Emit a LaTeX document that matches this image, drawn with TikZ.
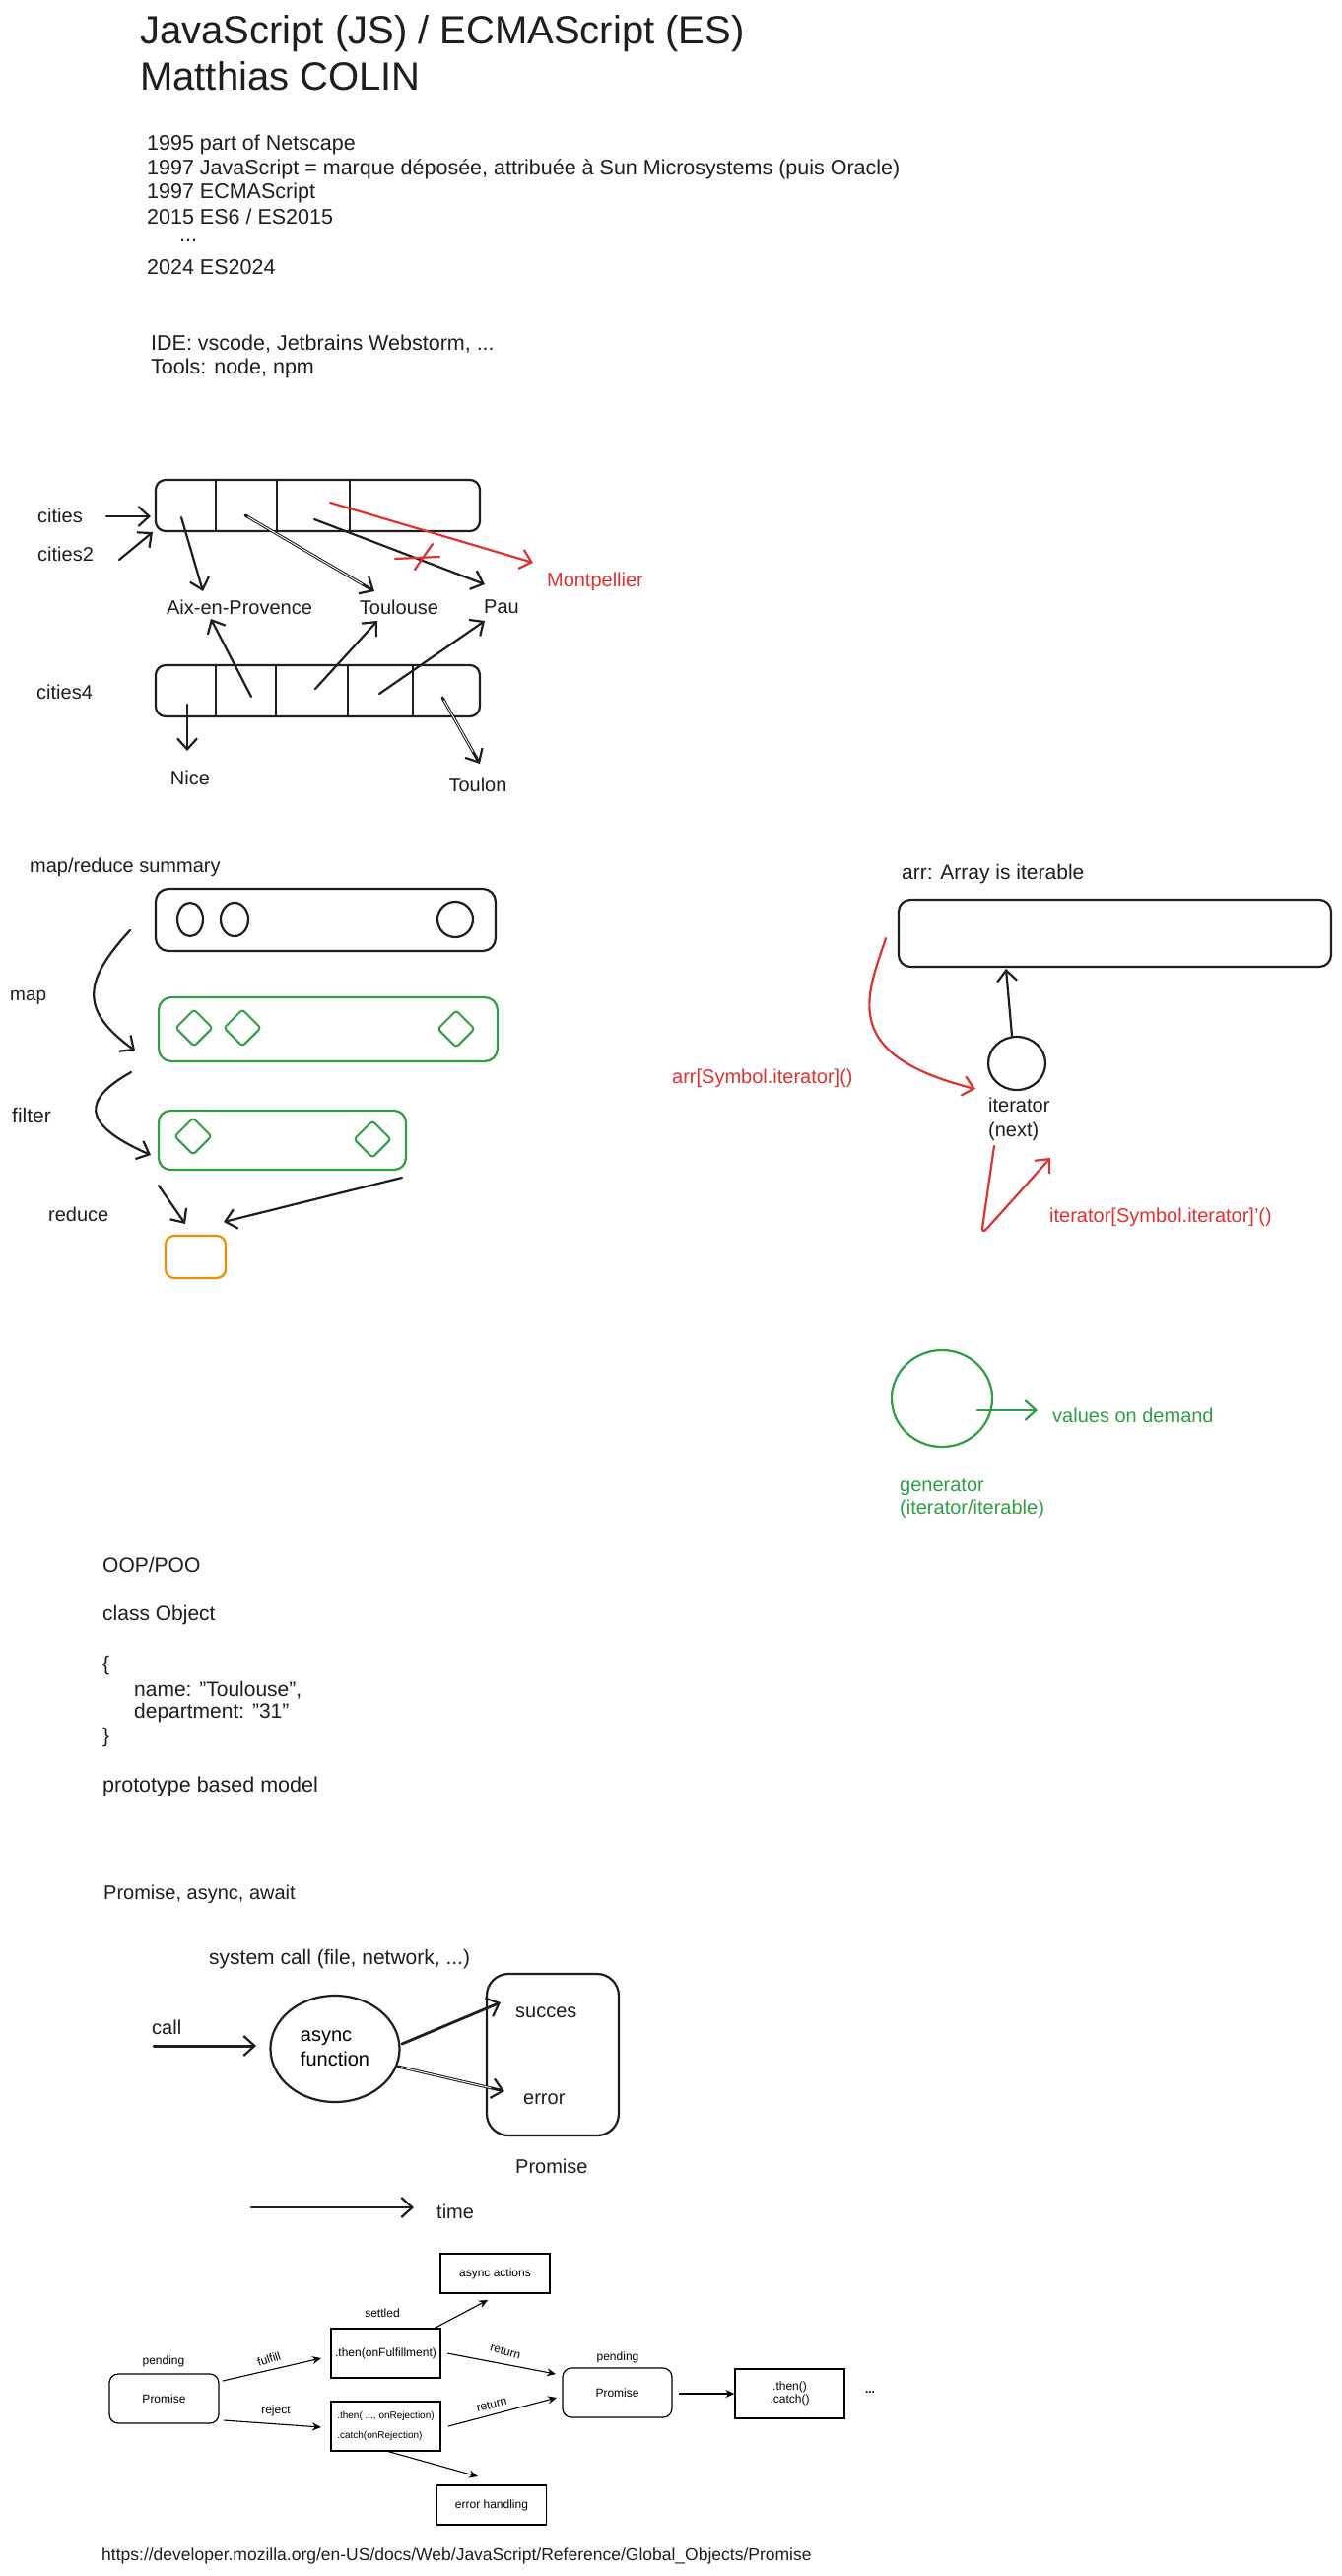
\documentclass[tikz,border=0pt]{standalone}
\usepackage{fontspec}
\setmainfont{Liberation Sans}
\usetikzlibrary{arrows.meta,shapes.geometric}
\definecolor{ink}{HTML}{1E1E1E}
\definecolor{exred}{HTML}{E03131}
\definecolor{exgreen}{HTML}{2F9E44}
\definecolor{exorange}{HTML}{F08C00}
\newcommand{\handsz}{\fontsize{20}{25}\selectfont}
\newcommand{\bigsz}{\fontsize{21.5}{25}\selectfont}
\newcommand{\diagsz}{\fontsize{12}{14}\selectfont}
\newcommand{\sq}{\symbol{34}}
\begin{document}
\begin{tikzpicture}[x=1pt,y=-1pt,
  hand/.style={draw=ink, line width=2.2pt, line cap=round, line join=round},
  harrow/.style={hand, -{Straight Barb[length=11pt,width=20pt,line width=2.2pt]}},
  rarrow/.style={harrow, draw=exred},
  garrow/.style={harrow, draw=exgreen},
  hollow/.style={draw=white, line width=0.9pt, shorten >=14pt, shorten <=3pt},
  txt/.style={anchor=west, inner sep=0pt, text=ink, font=\handsz},
  rtxt/.style={txt, text=exred},
  gtxt/.style={txt, text=exgreen},
  hbox/.style={hand, rectangle, rounded corners=10pt, inner sep=0pt},
  gbox/.style={hbox, draw=exgreen},
  oval/.style={hand, ellipse, inner sep=0pt},
  gdiam/.style={draw=exgreen, line width=2pt, diamond, rounded corners=3pt, minimum width=38pt, minimum height=38pt, inner sep=0pt},
  dbox/.style={draw=black, line width=1.2pt, rectangle, minimum width=111pt, minimum height=50pt, inner sep=1pt, align=center, font=\diagsz},
  dlab/.style={inner sep=0pt, font=\diagsz},
  darrow/.style={draw=black, line width=1.1pt, -{Stealth[length=9pt,width=8pt,inset=3pt]}}
]
\fill[white] (0,0) rectangle (1361,2614);
\useasboundingbox (0,0) rectangle (1361,2614);

% ---------- title ----------
\node[txt, font=\fontsize{40}{46}\selectfont] (title1) at (142,34) {JavaScript (JS) / ECMAScript (ES)};
\node[txt, font=\fontsize{40}{46}\selectfont] (title2) at (142,77) {Matthias COLIN};

\node[txt, font=\bigsz] (h1) at (149,147) {1995 part of Netscape};
\node[txt, font=\bigsz] (h2) at (149,172) {1997 JavaScript = marque déposée, attribuée à Sun Microsystems (puis Oracle)};
\node[txt, font=\bigsz] (h3) at (149,196) {1997 ECMAScript};
\node[txt, font=\bigsz] (h4) at (149,220) {2015 ES6 / ES2015};
\node[txt, font=\bigsz] (h5) at (182,244) {...};
\node[txt, font=\bigsz] (h6) at (149,271) {2024 ES2024};

\node[txt, font=\bigsz] (ide) at (153,349) {IDE: vscode, Jetbrains Webstorm, ...};
\node[txt, font=\bigsz] (tools) at (153,374) {Tools: node, npm};

% ---------- cities ----------
\node[txt] (cities) at (38,523) {cities};
\node[txt] (cities2) at (38,562) {cities2};
\node[txt] (cities4) at (37,702) {cities4};

\node[hbox, minimum width=329pt, minimum height=52pt] (arrA) at (322.5,513) {};
\draw[hand] (219,487) -- (219,539);
\draw[hand] (281,487) -- (281,539);
\draw[hand] (355,487) -- (355,539);

\node[hbox, minimum width=329pt, minimum height=52pt] (arrB) at (322.5,701) {};
\draw[hand] (219,675) -- (219,727);
\draw[hand] (280,675) -- (280,727);
\draw[hand] (353,675) -- (353,727);
\draw[hand] (419,675) -- (419,727);

\node[txt, anchor=center] (aix) at (243,616) {Aix-en-Provence};
\node[txt, anchor=center] (toulouse) at (405,616) {Toulouse};
\node[txt, anchor=center] (pau) at (509,616) {Pau};
\node[rtxt, anchor=center] (montp) at (604,590) {Montpellier};
\node[txt, anchor=center] (nice) at (193,789) {Nice};
\node[txt, anchor=center] (toulon) at (485,796) {Toulon};

\coordinate (ca) at (108,524); \coordinate (cb) at (153,524);
\draw[harrow] (ca) -- (cb);
\coordinate (c2a) at (121,568); \coordinate (c2b) at (155,540);
\draw[harrow] (c2a) -- (c2b);

\coordinate (a1s) at (184,525); \coordinate (a1e) at (206,600);
\draw[harrow] (a1s) -- (a1e);
\coordinate (a2s) at (249,523); \coordinate (a2e) at (380,600);
\draw[harrow, line width=3pt] (a2s) -- (a2e);
\draw[hollow] (a2s) -- (a2e);
\coordinate (a3s) at (319,527); \coordinate (a3e) at (492,593);
\draw[harrow] (a3s) -- (a3e);
\coordinate (rs) at (335,510); \coordinate (re) at (541,571);
\draw[rarrow] (rs) -- (re);
\draw[hand, draw=exred] (401,567) -- (446,565);
\draw[hand, draw=exred] (439,552) -- (421,578);

\coordinate (b1s) at (190,715); \coordinate (b1e) at (190,762);
\draw[harrow] (b1s) -- (b1e);
\coordinate (b2s) at (255,707); \coordinate (b2e) at (214,628);
\draw[harrow] (b2s) -- (b2e);
\coordinate (b3s) at (320,699); \coordinate (b3e) at (383,630);
\draw[harrow] (b3s) -- (b3e);
\coordinate (b4s) at (385,704); \coordinate (b4e) at (492,630);
\draw[harrow] (b4s) -- (b4e);
\coordinate (b5s) at (449,708); \coordinate (b5e) at (487,775);
\draw[harrow, line width=3pt] (b5s) -- (b5e);
\draw[hollow] (b5s) -- (b5e);

% ---------- map / reduce ----------
\node[txt, font=\fontsize{20}{24}\selectfont] (mrs) at (30,880) {map/reduce summary};
\node[hbox, minimum width=345pt, minimum height=63pt, rounded corners=13pt] (src) at (330.5,933.5) {};
\node[oval, minimum width=26pt, minimum height=34pt] (o1) at (193,933) {};
\node[oval, minimum width=28pt, minimum height=34pt] (o2) at (238,933) {};
\node[oval, minimum width=36pt, minimum height=36pt] (o3) at (462,933) {};

\node[gbox, minimum width=344pt, minimum height=65pt, rounded corners=13pt] (mapped) at (333,1044.5) {};
\node[gdiam] (d1) at (197,1043) {};
\node[gdiam] (d2) at (246,1043) {};
\node[gdiam] (d3) at (463,1044) {};

\node[gbox, minimum width=251pt, minimum height=60pt, rounded corners=12pt] (filtered) at (286.5,1157) {};
\node[gdiam] (d4) at (196,1153) {};
\node[gdiam] (d5) at (378,1156) {};

\node[hbox, draw=exorange, minimum width=61pt, minimum height=43pt, rounded corners=9pt] (reduced) at (198.5,1275.5) {};

\node[txt, font=\fontsize{19}{22}\selectfont] (lmap) at (10,1012) {map};
\node[txt, font=\fontsize{21}{24}\selectfont] (lfilter) at (12,1132) {filter};
\node[txt, font=\fontsize{20}{23}\selectfont] (lreduce) at (49,1232) {reduce};

\coordinate (m1s) at (132,944); \coordinate (m1e) at (137,1066);
\draw[harrow] (m1s) .. controls (85,995) and (80,1025) .. (m1e);
\coordinate (m2s) at (133,1088); \coordinate (m2e) at (153,1172);
\draw[harrow] (m2s) .. controls (85,1115) and (80,1140) .. (m2e);
\coordinate (r1s) at (161,1203); \coordinate (r1e) at (188,1242);
\draw[harrow] (r1s) -- (r1e);
\coordinate (r2s) at (408,1195); \coordinate (r2e) at (227,1240);
\draw[harrow] (r2s) -- (r2e);

% ---------- iterator ----------
\node[txt, font=\fontsize{21}{25}\selectfont] (arrlab) at (915,887) {arr: Array is iterable};
\node[hbox, minimum width=439pt, minimum height=68pt, rounded corners=12pt] (arrbox) at (1131.5,947) {};
\node[oval, minimum width=58pt, minimum height=54pt] (iter) at (1032,1079) {};
\node[txt, anchor=north west, align=left, font=\fontsize{20}{25}\selectfont] (iterlab) at (1003,1114) {iterator\\(next)};
\draw[harrow] (iter.north) ++(-5,0) coordinate (itop) -- (1021,983) coordinate (abot);

\coordinate (ris) at (899,952); \coordinate (rie) at (990,1105);
\draw[rarrow] (ris) .. controls (880,1010) and (850,1070) .. (rie);
\node[rtxt] (symit) at (682,1094) {arr[Symbol.iterator]()};

\coordinate (l1) at (1009,1163); \coordinate (l2) at (996,1253); \coordinate (l3) at (1066,1175);
\draw[rarrow, rounded corners=8pt] (l1) -- (l2) -- (l3);
\node[rtxt] (symit2) at (1065,1235) {iterator[Symbol.iterator]\symbol{39}()};

% ---------- generator ----------
\node[oval, draw=exgreen, minimum width=102pt, minimum height=98pt] (gen) at (956,1419) {};
\coordinate (gs) at (992,1431); \coordinate (ge) at (1053,1431);
\draw[garrow] (gs) -- (ge);
\node[gtxt] (vod) at (1068,1436) {values on demand};
\node[gtxt, anchor=north west, align=left, font=\fontsize{20}{23}\selectfont] (genlab) at (913,1500) {generator\\(iterator/iterable)};

% ---------- OOP ----------
\node[txt, font=\fontsize{21}{25}\selectfont] (oop) at (104,1588) {OOP/POO};
\node[txt, font=\fontsize{21}{25}\selectfont] (cls) at (104,1639) {class Object};
\node[txt, font=\fontsize{21}{25}\selectfont] (ob1) at (104,1690) {\{};
\node[txt, font=\fontsize{21}{25}\selectfont] (ob2) at (136,1715) {name: \sq Toulouse\sq,};
\node[txt, font=\fontsize{21}{25}\selectfont] (ob3) at (136,1738) {department: \sq 31\sq};
\node[txt, font=\fontsize{21}{25}\selectfont] (ob4) at (104,1763) {\}};
\node[txt, font=\fontsize{21.5}{25}\selectfont] (proto) at (104,1813) {prototype based model};

% ---------- promise ----------
\node[txt] (paa) at (105,1922) {Promise, async, await};
\node[txt, font=\fontsize{21}{25}\selectfont] (sysc) at (212,1988) {system call (file, network, ...)};
\node[txt] (call) at (154,2057) {call};
\coordinate (cls1) at (156,2076); \coordinate (cls2) at (260,2076);
\draw[harrow, line width=3pt] (cls1) -- (cls2);
\node[oval, minimum width=131pt, minimum height=108pt, align=left, font=\handsz] (afn) at (340,2079) {async\\function};
\node[hbox, minimum width=134pt, minimum height=164pt, rounded corners=22pt] (prom) at (561,2085) {};
\node[txt] (succ) at (523,2042) {succes};
\node[txt] (err) at (531,2130) {error};
\coordinate (as1) at (408,2074); \coordinate (as2) at (508,2032);
\draw[harrow, line width=2.8pt] (as1) -- (as2);
\coordinate (ae1) at (404,2097); \coordinate (ae2) at (512,2122);
\draw[harrow, line width=3pt] (ae1) -- (ae2);
\draw[hollow] (ae1) -- (ae2);
\node[txt] (promlab) at (523,2198) {Promise};
\coordinate (t1) at (255,2240); \coordinate (t2) at (420,2240);
\draw[harrow] (t1) -- (t2);
\node[txt] (time) at (443,2244) {time};

% ---------- MDN promise diagram ----------
\node[dbox, rounded corners=9pt] (pA) at (166.5,2434) {Promise};
\node[dlab] (pendA) at (166,2396) {pending};
\node[dbox] (thenb) at (391.5,2388) {.then(onFulfillment)};
\node[dbox, font=\fontsize{10}{12}\selectfont, align=left] (catchb) at (391.5,2462) {.then( ..., onRejection)\\[8pt].catch(onRejection)};
\node[dbox, minimum height=40pt] (asyncb) at (502.5,2307) {async actions};
\node[dbox, minimum height=40pt] (errb) at (499,2542) {error handling};
\node[dlab] (settled) at (388,2347) {settled};
\node[dbox, rounded corners=9pt] (pB) at (626.5,2428) {Promise};
\node[dlab] (pendB) at (627,2392) {pending};
\node[dbox, font=\fontsize{12}{13}\selectfont] (tcb) at (801.5,2429) {.then()\\.catch()};
\node[dlab, font=\bfseries\diagsz] (dots) at (883,2428) {...};

\coordinate (f1) at (226,2416); \coordinate (f2) at (326,2393);
\draw[darrow] (f1) -- (f2);
\node[dlab, rotate=18] (lf) at (273,2394) {fulfill};
\coordinate (j1) at (227,2456); \coordinate (j2) at (326,2463);
\draw[darrow] (j1) -- (j2);
\node[dlab] (lj) at (280,2446) {reject};
\coordinate (aa1) at (440,2363); \coordinate (aa2) at (495,2334);
\draw[darrow] (aa1) -- (aa2);
\coordinate (rt1) at (454,2388); \coordinate (rt2) at (564,2409);
\draw[darrow] (rt1) -- (rt2);
\node[dlab, rotate=-15] (lr1) at (513,2386) {return};
\coordinate (rc1) at (455,2462); \coordinate (rc2) at (565,2433);
\draw[darrow] (rc1) -- (rc2);
\node[dlab, rotate=15] (lr2) at (499,2440) {return};
\coordinate (eh1) at (392,2487); \coordinate (eh2) at (485,2513);
\draw[darrow] (eh1) -- (eh2);
\draw[darrow] (pB.east) ++(6,1) coordinate (pbe) -- (tcb.west);

\node[txt, font=\fontsize{17.5}{22}\selectfont] (url) at (103,2594) {https://developer.mozilla.org/en-US/docs/Web/JavaScript/Reference/Global\_Objects/Promise};
\end{tikzpicture}
\end{document}
